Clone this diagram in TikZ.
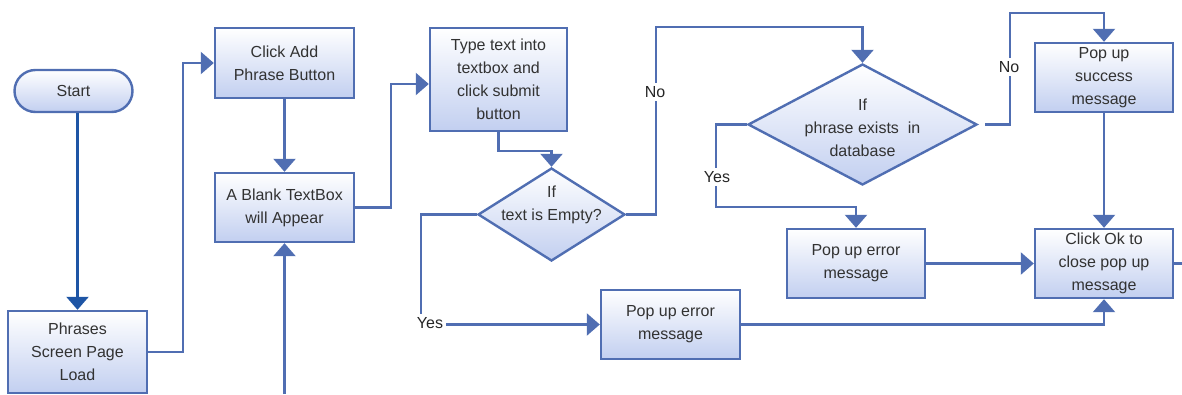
\documentclass[tikz,border=0pt]{standalone}
\usepackage{fontspec}
\setmainfont{Liberation Sans}
\usetikzlibrary{arrows.meta,shapes.geometric,calc}
\definecolor{ln}{RGB}{80,110,178}
\definecolor{dk}{RGB}{30,85,165}
\definecolor{fb}{RGB}{194,207,240}
\definecolor{tx}{RGB}{50,50,50}
\begin{document}
\begin{tikzpicture}[x=1pt,y=-1pt,
  box/.style={draw=ln, line width=2.4pt, top color=white, bottom color=fb,
    minimum width=139pt, minimum height=69pt, inner sep=0pt, align=center,
    text=tx, font=\fontsize{16}{23}\selectfont},
  dia/.style={draw=ln, line width=2.4pt, shape=diamond, top color=white, bottom color=fb,
    inner sep=0pt},
  dtext/.style={align=center, text=tx, font=\fontsize{16}{23}\selectfont},
  con/.style={draw=ln, line width=2.4pt, -{Triangle[width=22pt,length=13pt]}},
  plain/.style={draw=ln, line width=2.4pt},
  lbl/.style={fill=white, text=black!85, inner sep=3pt, font=\fontsize{16}{17}\selectfont}
]
\useasboundingbox (0,0) rectangle (1182,394);

\node[box, rounded corners=21pt, minimum width=118pt, minimum height=42pt] (start) at (73.5,91) {Start};
\node[box, minimum height=82pt] (phr) at (77.5,352) {Phrases\\Screen Page\\Load};
\node[box, minimum height=70pt] (add) at (284.5,63) {Click Add\\Phrase Button};
\node[box] (blank) at (284.5,207.5) {A Blank TextBox\\will Appear};
\node[box, minimum width=137pt, minimum height=103pt] (type) at (498.5,79.5) {Type text into\\textbox and\\click submit\\button};
\node[dia, minimum width=147pt, minimum height=93pt] (d1) at (551.5,214.5) {};
\node[dtext] (d1t) at (551.5,205) {If\\text is Empty?};
\node[dia, minimum width=229pt, minimum height=121pt] (d2) at (862.5,124.5) {};
\node[dtext] (d2t) at (862.5,128) {If\\phrase exists\ \ in\\database};
\node[box] (err1) at (670.5,324.5) {Pop up error\\message};
\node[box, minimum width=138pt] (err2) at (856,263.5) {Pop up error\\message};
\node[box, minimum width=138pt] (succ) at (1104,77.5) {Pop up\\success\\message};
\node[box, minimum width=138pt] (ok) at (1104,263.5) {Click Ok to\\close pop up\\message};

\coordinate (b0) at (284.5,394);
\coordinate (e0) at (1182,263.5);

\draw[con, draw=dk, fill=dk] (phr.north |- start.south) -- (phr.north);
\draw[con] (phr.east) -- ++(35,0) |- (add.west);
\draw[con] (add.south) -- (blank.north);
\draw[con] (b0) -- (blank.south);
\draw[con] (blank.east) -- ++(36,0) |- ($(type.west)+(0,4.5)$);
\draw[con] (type.south) -- ++(0,19) -| (d1.north);
\draw[con] (d1.east) -- ++(30,0) |- ($(d2.north)+(0,-36)$) -- (d2.north);
\draw[con] ($(d2.east)+(7,0)$) -- ++(25,0) |- ($(succ.north)+(0,-29)$) -- (succ.north);
\draw[con] (succ.south) -- (ok.north);
\draw[con] (d2.west) -- ++(-31,0) |- ($(err2.north)+(0,-21)$) -- (err2.north);
\draw[con] (err2.east) -- (ok.west);
\draw[con] (d1.west) -- ++(-56,0) |- (err1.west);
\draw[con] (err1.east) -| (ok.south);
\draw[plain] (ok.east) -- (e0);

\node[lbl] (no1) at (655,92) {No};
\node[lbl] (no2) at (1009,67) {No};
\node[lbl] (yes1) at (717,177) {Yes};
\node[lbl] (yes2) at (430,323) {Yes};
\end{tikzpicture}
\end{document}
